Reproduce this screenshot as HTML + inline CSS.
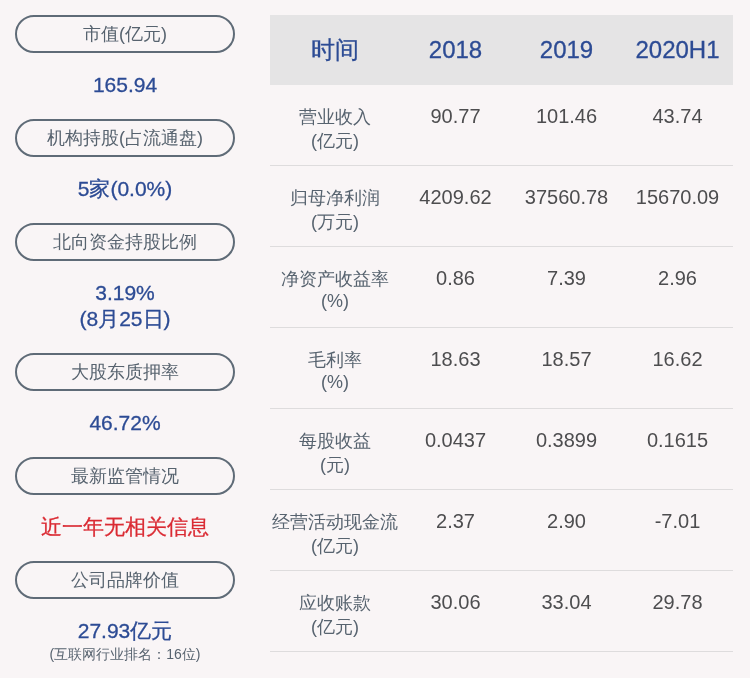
<!DOCTYPE html>
<html><head><meta charset="utf-8">
<style>
html,body{margin:0;padding:0;}
body{width:750px;height:678px;background:#f9f5f6;position:relative;overflow:hidden;font-family:"Liberation Sans",sans-serif;}
.pill{will-change:transform;position:absolute;left:15px;width:216px;height:34px;border:2px solid #5f6b77;border-radius:19px;color:#57636f;font-size:18px;line-height:34px;text-align:center;}
.val{will-change:transform;position:absolute;left:15px;width:220px;text-align:center;color:#2c4b94;font-size:21px;line-height:26px;-webkit-text-stroke:0.3px #2c4b94;}
.red{color:#da2a33;-webkit-text-stroke:0.3px #da2a33;}
.small{font-size:14px;color:#57636f;-webkit-text-stroke:0;}
.hdr{position:absolute;left:270px;top:15px;width:463px;height:70px;background:#e5e4e5;}
.cell{position:absolute;text-align:center;}

.row{position:absolute;left:270px;width:463px;height:80px;border-bottom:1px solid #dedcdd;}
.c{will-change:transform;position:absolute;top:0;text-align:center;color:#57636f;font-size:18px;}
.c0{left:0;width:130px;line-height:normal;padding-top:20px;}
.c1{left:130px;width:111px;}
.c2{left:241px;width:111px;}
.c3{left:352px;width:111px;}
.num{font-size:20px;line-height:24px;padding-top:19px;color:#4d4d4f;}
.hdr .c{color:#2c4b94;font-size:24px;line-height:70px;height:70px;-webkit-text-stroke:0.3px #2c4b94;}
</style></head><body>
<div class="pill" style="top:15px">市值(亿元)</div>
<div class="val" style="top:72px">165.94</div>
<div class="pill" style="top:119px">机构持股(占流通盘)</div>
<div class="val" style="top:176px">5家(0.0%)</div>
<div class="pill" style="top:223px">北向资金持股比例</div>
<div class="val" style="top:280px">3.19%<br>(8月25日)</div>
<div class="pill" style="top:353px">大股东质押率</div>
<div class="val" style="top:410px">46.72%</div>
<div class="pill" style="top:457px">最新监管情况</div>
<div class="val red" style="top:514px">近一年无相关信息</div>
<div class="pill" style="top:561px">公司品牌价值</div>
<div class="val" style="top:618px">27.93亿元</div>
<div class="val small" style="top:641px">(互联网行业排名：16位)</div>

<div class="hdr">
  <div class="c h" style="left:0;width:130px;top:0">时间</div>
  <div class="c h c1" style="top:0">2018</div>
  <div class="c h c2" style="top:0">2019</div>
  <div class="c h c3" style="top:0">2020H1</div>
</div>

<div class="row" style="top:85px">
  <div class="c c0">营业收入<br>(亿元)</div>
  <div class="c c1 num">90.77</div><div class="c c2 num">101.46</div><div class="c c3 num">43.74</div>
</div>
<div class="row" style="top:166px">
  <div class="c c0">归母净利润<br>(万元)</div>
  <div class="c c1 num">4209.62</div><div class="c c2 num">37560.78</div><div class="c c3 num">15670.09</div>
</div>
<div class="row" style="top:247px">
  <div class="c c0">净资产收益率<br>(%)</div>
  <div class="c c1 num">0.86</div><div class="c c2 num">7.39</div><div class="c c3 num">2.96</div>
</div>
<div class="row" style="top:328px">
  <div class="c c0">毛利率<br>(%)</div>
  <div class="c c1 num">18.63</div><div class="c c2 num">18.57</div><div class="c c3 num">16.62</div>
</div>
<div class="row" style="top:409px">
  <div class="c c0">每股收益<br>(元)</div>
  <div class="c c1 num">0.0437</div><div class="c c2 num">0.3899</div><div class="c c3 num">0.1615</div>
</div>
<div class="row" style="top:490px">
  <div class="c c0">经营活动现金流<br>(亿元)</div>
  <div class="c c1 num">2.37</div><div class="c c2 num">2.90</div><div class="c c3 num">-7.01</div>
</div>
<div class="row" style="top:571px">
  <div class="c c0">应收账款<br>(亿元)</div>
  <div class="c c1 num">30.06</div><div class="c c2 num">33.04</div><div class="c c3 num">29.78</div>
</div>
</body></html>
